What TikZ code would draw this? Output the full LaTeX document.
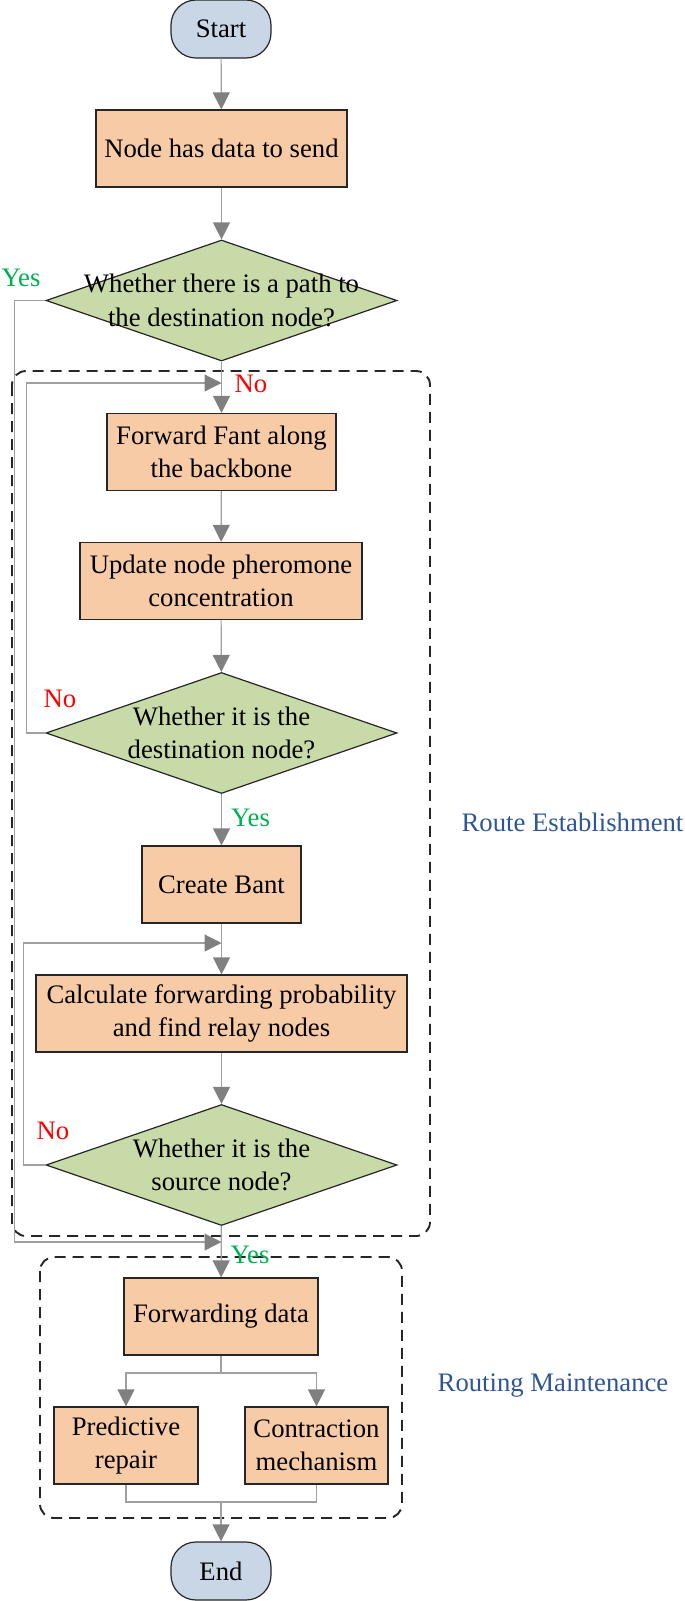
\documentclass[tikz,border=0pt]{standalone}
\usepackage{fontspec}
\setmainfont{Liberation Serif}
\usetikzlibrary{arrows.meta,shapes.geometric}

\definecolor{startblue}{RGB}{200,214,230}
\definecolor{boxpeach}{RGB}{248,203,167}
\definecolor{askgreen}{RGB}{200,218,168}
\definecolor{linegray}{RGB}{160,160,160}
\definecolor{tipgray}{RGB}{128,128,128}
\definecolor{yesgreen}{RGB}{0,176,80}
\definecolor{stageblue}{RGB}{47,85,151}

\tikzset{
	term/.style={draw=black!85,line width=1.2pt,fill=startblue,rounded corners=25pt,minimum width=100pt,minimum height=58pt,inner sep=0pt},
	proc/.style={draw=black!85,line width=1.2pt,fill=boxpeach,align=center,inner sep=0pt,minimum height=77pt},
	ask/.style={diamond,draw=black!85,line width=1.2pt,fill=askgreen,inner sep=0pt,minimum width=351pt,minimum height=121pt},
	asktext/.style={align=center,inner sep=0pt},
	arr/.style={draw=linegray,line width=1.2pt,-{Triangle[length=17pt,width=17pt,color=tipgray]}},
	conn/.style={draw=linegray,line width=1.2pt},
	stage/.style={draw=black!85,line width=1.9pt,dash pattern=on 11pt off 7pt,rounded corners=14pt},
}

\begin{document}
\begin{tikzpicture}[x=1pt,y=-1pt,font=\fontsize{26.7pt}{33.3pt}\selectfont]
	\useasboundingbox (0,0) rectangle (685,1601);
	
	% stages
	\draw[stage] (12,371) rectangle (430,1236);
	\draw[stage] (40,1257) rectangle (402,1518);
	\node[text=stageblue] (estab) at (572.5,822) {Route Establishment};
	\node[text=stageblue] (maint) at (553,1386) {Routing Maintenance};
	
	% flow
	\node[term] (start) at (221,29) {Start};
	\node[proc,minimum width=251pt] (send) at (221.5,148.5) {Node has data to send};
	\node[ask] (q1) at (221.5,300.5) {};
	\node[asktext] (q1t) at (q1) {Whether there is a path to\\the destination node?};
	\node[proc,minimum width=229pt] (fwd) at (221.5,452) {Forward Fant along\\the backbone};
	\node[proc,minimum width=282pt] (upd) at (221,581) {Update node pheromone\\concentration};
	\node[ask] (q2) at (221.5,733) {};
	\node[asktext] (q2t) at (q2) {Whether it is the\\destination node?};
	\node[proc,minimum width=159pt] (bant) at (221.5,884.5) {Create Bant};
	\node[proc,minimum width=371pt] (calc) at (221.5,1013.5) {Calculate forwarding probability\\and find relay nodes};
	\node[ask] (q3) at (221.5,1165) {};
	\node[asktext] (q3t) at (q3) {Whether it is the\\source node?};
	\node[proc,minimum width=194pt] (fdata) at (221,1316.5) {Forwarding data};
	\node[proc,minimum width=144pt] (pred) at (126,1445.5) {Predictive\\repair};
	\node[proc,minimum width=143pt] (contr) at (316.5,1445.5) {Contraction\\mechanism};
	\node[term] (end) at (221,1571) {End};
	
	\coordinate (m1) at (221.5,383);
	\coordinate (m2) at (221.5,943);
	\coordinate (m3) at (221.5,1242);
	\coordinate (sp) at (221,1373);
	\coordinate (jn) at (221,1502);
	
	\draw[arr] (start) -- (send);
	\draw[arr] (send) -- (q1);
	\draw[arr] (q1) -- (fwd);
	\draw[arr] (fwd) -- (upd);
	\draw[arr] (upd) -- (q2);
	\draw[arr] (q2) -- (bant);
	\draw[arr] (bant) -- (calc);
	\draw[arr] (calc) -- (q3);
	\draw[arr] (q3) -- (fdata);
	\draw[arr] (q1.west) -- ++(-31,0) |- (m3);
	\draw[arr] (q2.west) -- ++(-19,0) |- (m1);
	\draw[arr] (q3.west) -- ++(-22,0) |- (m2);
	\draw[conn] (fdata) -- (sp);
	\draw[arr] (sp) -| (pred);
	\draw[arr] (sp) -| (contr);
	\draw[conn] (pred) |- (jn) -| (contr);
	\draw[arr] (jn) -- (end);
	
	% yes / no
	\node[text=yesgreen] (yes1) at (21,277.5) {Yes};
	\node[text=red] (no1) at (251,384) {No};
	\node[text=red] (no2) at (60,699) {No};
	\node[text=yesgreen] (yes2) at (250.5,818) {Yes};
	\node[text=red] (no3) at (53,1131) {No};
	\node[text=yesgreen] (yes3) at (250,1255) {Yes};
\end{tikzpicture}
\end{document}
